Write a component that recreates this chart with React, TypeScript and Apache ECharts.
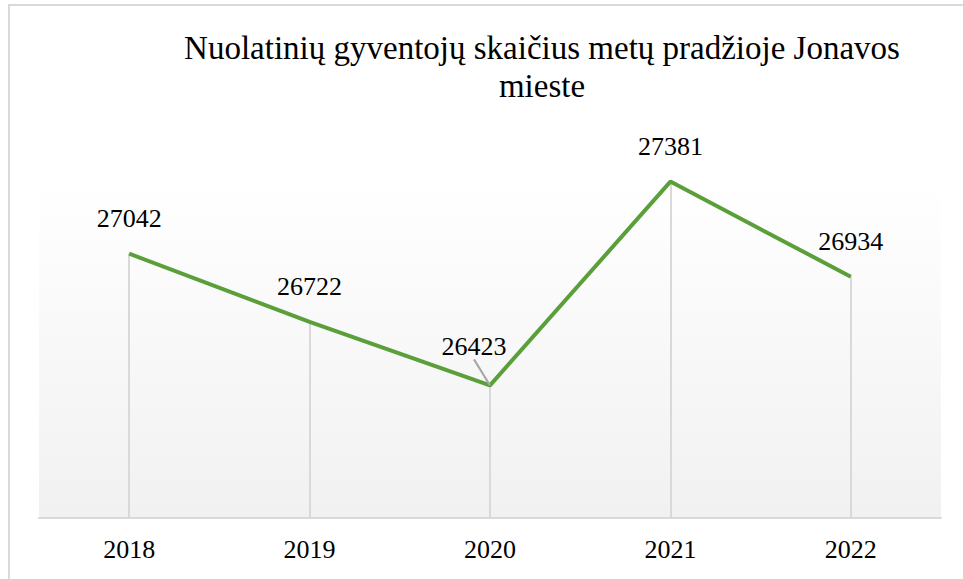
import React, { useEffect, useRef } from "react";
import * as echarts from "echarts";

const titleText = "Nuolatinių gyventojų skaičius metų pradžioje Jonavos\nmieste";
const years = ["2018", "2019", "2020", "2021", "2022"];
const residents = [27042, 26722, 26423, 27381, 26934];
const yMin = 25800;
const yMax = 27600;

const FONT = "Liberation Serif";

export default function App() {
  const ref = useRef<HTMLDivElement>(null);
  useEffect(() => {
    document.body.style.margin = "0";
    const chart = echarts.init(ref.current!, null, { renderer: "svg" });
    chart.setOption({
      animation: false,
      backgroundColor: "#ffffff",
      title: {
        text: titleText,
        left: 537,
        top: 24,
        textAlign: "center",
        textStyle: {
          fontFamily: FONT,
          fontSize: 33,
          fontWeight: "normal",
          color: "#000000",
          lineHeight: 38,
        },
      },
      graphic: [
        {
          type: "rect",
          shape: { x: 39, y: 183, width: 902, height: 335 },
          style: {
            fill: new echarts.graphic.LinearGradient(0, 0, 0, 1, [
              { offset: 0, color: "#ffffff" },
              { offset: 1, color: "#f1f1f1" },
            ]),
          },
          silent: true,
          z: -10,
        },
        {
          type: "rect",
          shape: { x: 9, y: 5, width: 1000, height: 700 },
          style: { fill: "none", stroke: "#d9d9d9", lineWidth: 2 },
          silent: true,
          z: 100,
        },
      ],
      grid: {
        left: 39,
        right: 22,
        top: 135,
        bottom: 61,
        show: false,
      },
      xAxis: {
        type: "category",
        data: years,
        boundaryGap: true,
        axisLine: { show: true, lineStyle: { color: "#d9d9d9", width: 2 } },
        axisTick: { show: false },
        axisLabel: {
          fontFamily: FONT,
          fontSize: 26,
          color: "#000000",
          margin: 18,
        },
        z: 3,
      },
      yAxis: {
        type: "value",
        min: yMin,
        max: yMax,
        show: false,
        splitLine: { show: false },
      },
      series: [
        {
          type: "line",
          data: residents.map((v, i) =>
            i === 2
              ? { value: v, labelLine: { show: true, lineStyle: { color: "#a6a6a6", width: 2 } } }
              : { value: v, labelLine: { show: false } }
          ),
          symbol: "circle",
          symbolSize: 0.1,
          showSymbol: true,
          lineStyle: { color: "#5a9f3a", width: 4 },
          itemStyle: { color: "#5a9f3a" },
          z: 5,
          label: {
            show: true,
            position: "top",
            distance: 22,
            fontFamily: FONT,
            fontSize: 26,
            color: "#000000",
          },
          labelLayout: (params: any) =>
            params.dataIndex === 2 ? { dx: -16, dy: -4 } : {},
          labelLine: {
            show: false,
            lineStyle: { color: "#a6a6a6", width: 2 },
          },
          markLine: {
            silent: true,
            symbol: ["none", "none"],
            label: { show: false },
            lineStyle: { color: "#d9d9d9", width: 2, type: "solid" },
            data: years.map((y, i) => [
              { coord: [y, residents[i]] },
              { coord: [y, yMin] },
            ]),
            z: 1,
          },
        },
      ],
    });
    return () => chart.dispose();
  }, []);
  return <div ref={ref} style={{ width: 963, height: 579 }} />;
}
